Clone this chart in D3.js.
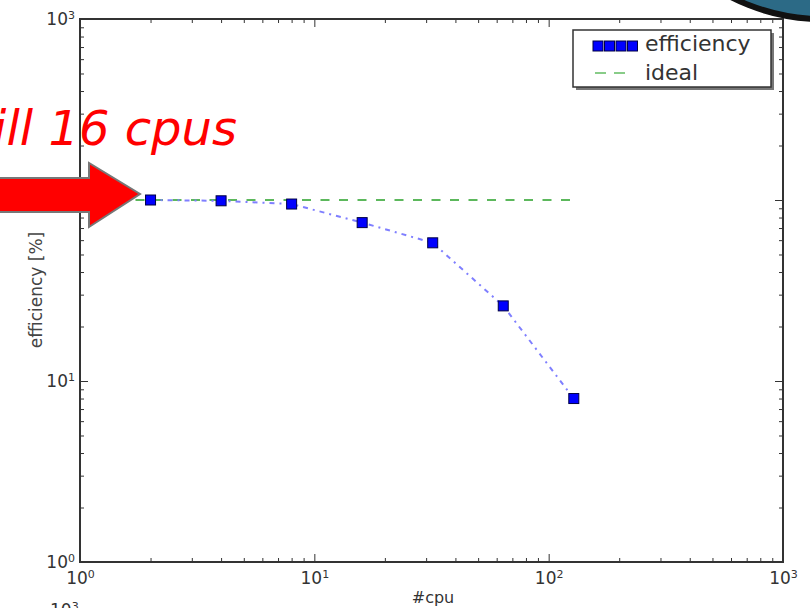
<!DOCTYPE html>
<html><head><meta charset="utf-8">
<script src="https://cdn.jsdelivr.net/npm/d3@7"></script>
<style>body{margin:0;background:#fff;overflow:hidden}svg{display:block}</style>
</head><body>
<script>
// ---- data ----
const cpus = [2, 4, 8, 16, 32, 64, 128];
const efficiency = [100, 99, 95, 75, 58, 26, 8];
const idealCpus = [1, 128];
const idealValues = [100, 100];
const majorTicks = [1, 10, 100, 1000];
const seriesNames = ["efficiency", "ideal"];
const annotation = "ill 16 cpus";
const xLabel = "#cpu";
const yLabel = "efficiency [%]";

const W = 810, H = 608;
const svg = d3.select("body").append("svg").attr("width", W).attr("height", H);
svg.append("rect").attr("width", W).attr("height", H).attr("fill", "#fff");

const L = 80, R = 783, T = 19, B = 562;
const x = d3.scaleLog().domain([1, 1000]).range([L, R]);
const y = d3.scaleLog().domain([1, 1000]).range([B, T]);

const isMajor = v => Math.abs(Math.log10(v) - Math.round(Math.log10(v))) < 1e-9;
const minorX = x.ticks().filter(v => !isMajor(v));
const minorY = y.ticks().filter(v => !isMajor(v));

const chart = svg.append("g");
const font = "'DejaVu Sans', sans-serif";
const axisColor = "#333";

function supLabels(sel) {
  sel.selectAll(".tick text").each(function(d) {
    const t = d3.select(this).text("");
    t.append("tspan").text("10");
    t.append("tspan").attr("dy", "-0.55em").attr("font-size", "11px").text(Math.round(Math.log10(d)));
  });
}
function styleAxis(g) {
  g.select(".domain").remove();
  g.selectAll(".tick line").attr("stroke", axisColor).attr("stroke-width", 1);
  g.selectAll(".tick text").attr("fill", "#333").attr("font-family", font).attr("font-size", "17px");
}

// bottom
chart.append("g").attr("transform", `translate(0,${B})`)
  .call(d3.axisBottom(x).tickValues(majorTicks).tickSizeInner(-8).tickSizeOuter(0).tickPadding(10)).call(styleAxis).call(supLabels);
chart.append("g").attr("transform", `translate(0,${B})`)
  .call(d3.axisBottom(x).tickValues(minorX).tickSizeInner(-4).tickSizeOuter(0).tickFormat("")).call(styleAxis);
// top
chart.append("g").attr("transform", `translate(0,${T})`)
  .call(d3.axisTop(x).tickValues(majorTicks).tickSizeInner(-8).tickSizeOuter(0).tickFormat("")).call(styleAxis);
chart.append("g").attr("transform", `translate(0,${T})`)
  .call(d3.axisTop(x).tickValues(minorX).tickSizeInner(-4).tickSizeOuter(0).tickFormat("")).call(styleAxis);
// left
chart.append("g").attr("transform", `translate(${L},0)`)
  .call(d3.axisLeft(y).tickValues(majorTicks).tickSizeInner(-8).tickSizeOuter(0).tickPadding(5)).call(styleAxis).call(supLabels);
chart.append("g").attr("transform", `translate(${L},0)`)
  .call(d3.axisLeft(y).tickValues(minorY).tickSizeInner(-4).tickSizeOuter(0).tickFormat("")).call(styleAxis);
// right
chart.append("g").attr("transform", `translate(${R},0)`)
  .call(d3.axisRight(y).tickValues(majorTicks).tickSizeInner(-8).tickSizeOuter(0).tickFormat("")).call(styleAxis);
chart.append("g").attr("transform", `translate(${R},0)`)
  .call(d3.axisRight(y).tickValues(minorY).tickSizeInner(-4).tickSizeOuter(0).tickFormat("")).call(styleAxis);

// frame
chart.append("rect").attr("x", L).attr("y", T).attr("width", R - L).attr("height", B - T)
  .attr("fill", "none").attr("stroke", axisColor).attr("stroke-width", 2);

// axis labels
chart.append("text").attr("x", 433).attr("y", 603).attr("text-anchor", "middle")
  .attr("font-family", font).attr("font-size", "16px").attr("fill", "#333").text(xLabel);
chart.append("text").attr("transform", "translate(42,290) rotate(-90)").attr("text-anchor", "middle")
  .attr("font-family", font).attr("font-size", "17px").attr("fill", "#444").text(yLabel);

// ideal line
const line = d3.line().x(d => x(d[0])).y(d => y(d[1]));
chart.append("path").datum(d3.zip(idealCpus, idealValues)).attr("d", line)
  .attr("fill", "none").attr("stroke", "#5cb85c").attr("stroke-width", 2).attr("stroke-dasharray", "9,9.5");

// efficiency line
chart.append("path").datum(d3.zip(cpus, efficiency)).attr("d", line)
  .attr("fill", "none").attr("stroke", "#7f7fff").attr("stroke-width", 2).attr("stroke-dasharray", "5,5,2,5");

// markers
const ms = 10;
chart.selectAll("rect.mk").data(d3.zip(cpus, efficiency)).join("rect").attr("class", "mk")
  .attr("x", d => x(d[0]) - ms / 2).attr("y", d => y(d[1]) - ms / 2)
  .attr("width", ms).attr("height", ms).attr("fill", "#0000ff").attr("stroke", "#000044").attr("stroke-width", 1);

// legend
const lg = chart.append("g");
lg.append("rect").attr("x", 576).attr("y", 33).attr("width", 198).attr("height", 57).attr("fill", "#777");
lg.append("rect").attr("x", 573).attr("y", 30).attr("width", 198).attr("height", 57)
  .attr("fill", "#fff").attr("stroke", "#333").attr("stroke-width", 1.5);
lg.selectAll("rect.lm").data(d3.range(4)).join("rect").attr("class", "lm")
  .attr("x", i => 593 + i * 11.5).attr("y", 41).attr("width", ms).attr("height", ms)
  .attr("fill", "#0000ff").attr("stroke", "#000044").attr("stroke-width", 1);
lg.append("line").attr("x1", 595).attr("x2", 627).attr("y1", 73).attr("y2", 73)
  .attr("stroke", "#88cc88").attr("stroke-width", 2).attr("stroke-dasharray", "11,8");
lg.selectAll("text").data(seriesNames).join("text")
  .attr("x", 645).attr("y", (d, i) => 51 + i * 29)
  .attr("font-family", font).attr("font-size", "22px").attr("fill", "#333").text(d => d);

// overlays from the slide
svg.append("circle").attr("cx", 822).attr("cy", -180).attr("r", 199)
  .attr("fill", "#2c6a86").attr("stroke", "#111").attr("stroke-width", 6);

const arrow = [[-5,178],[89,178],[89,163],[140,194],[89,227],[89,212],[-5,212]];
svg.append("polygon").attr("points", arrow.map(p => p.join(",")).join(" "))
  .attr("fill", "#ff0000").attr("stroke", "#777").attr("stroke-width", 2);

svg.append("text").attr("x", 237).attr("y", 145).attr("text-anchor", "end")
  .attr("font-family", font).attr("font-style", "italic").attr("font-size", "48px")
  .attr("fill", "#ff0000").text(annotation);

const part = svg.append("text").attr("x", 50).attr("y", 616)
  .attr("font-family", font).attr("font-size", "17px").attr("fill", "#333");
part.append("tspan").text("10");
part.append("tspan").attr("dy", "-0.55em").attr("font-size", "11px").text("3");
</script>
</body></html>
